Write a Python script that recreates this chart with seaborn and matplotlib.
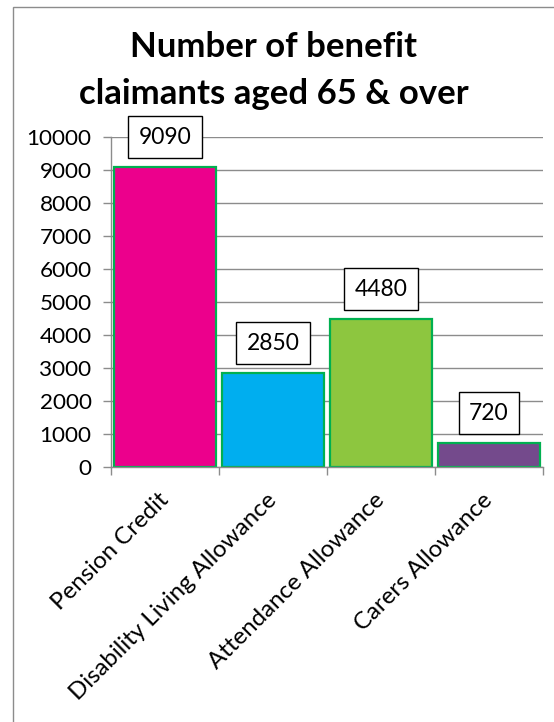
import matplotlib
matplotlib.use("Agg")
import matplotlib.pyplot as plt
import matplotlib.transforms as mtransforms
from matplotlib.patches import Rectangle
from matplotlib.ticker import FixedLocator
import seaborn as sns
import pandas as pd

categories = ["Pension Credit", "Disability Living Allowance",
              "Attendance Allowance", "Carers Allowance"]
claimants = [9090, 2850, 4480, 720]
bar_colors = ["#EC008C", "#00AEEF", "#8DC63F", "#744A8C"]
y_ticks = list(range(0, 10001, 1000))

df = pd.DataFrame({"benefit": categories, "claimants": claimants})

sns.set_theme(style="white")
plt.rcParams["font.family"] = ["Lato", "DejaVu Sans"]

W, H = 554, 722
fig = plt.figure(figsize=(W / 100, H / 100), dpi=100)
fig.patch.set_facecolor("white")

# chart frame
fig.patches.append(Rectangle((13 / W, -0.1), 1.2, 1 - 7 / H + 0.1,
                             transform=fig.transFigure, fill=False,
                             edgecolor="#8c8c8c", linewidth=1.0))

ax = fig.add_axes([111 / W, 1 - 467 / H, (543 - 111) / W, (467 - 137) / H])
sns.barplot(data=df, x="benefit", y="claimants", hue="benefit",
            palette=bar_colors, order=categories, hue_order=categories,
            legend=False, width=0.95, edgecolor="#00B050", linewidth=1.6,
            saturation=1, ax=ax)

ax.set_ylim(0, 10000)
ax.set_xlim(-0.5, len(categories) - 0.5)
ax.set_yticks(y_ticks)
ax.set_yticklabels([str(t) for t in y_ticks], fontsize=16.2, color="black")
ax.yaxis.grid(True, color="#8c8c8c", linewidth=1.0)
ax.set_axisbelow(True)
ax.set_xlabel("")
ax.set_ylabel("")

for side in ["top", "right"]:
    ax.spines[side].set_visible(False)
for side in ["left", "bottom"]:
    ax.spines[side].set_color("#8c8c8c")
    ax.spines[side].set_linewidth(1.0)

ax.tick_params(axis="y", which="major", direction="out", length=6,
               color="#8c8c8c", width=1.0, left=True, pad=8)
ax.tick_params(axis="x", which="major", length=0, pad=6)
ax.xaxis.set_minor_locator(FixedLocator([i - 0.5 for i in range(len(categories) + 1)]))
ax.tick_params(axis="x", which="minor", direction="out", length=6,
               color="#8c8c8c", width=1.0, bottom=True)
ax.set_xticks(range(len(categories)))
ax.set_xticklabels(categories, rotation=45, ha="right",
                   rotation_mode="anchor", fontsize=17.3, color="black")

# nudge the slanted category labels down and slightly left
shift = mtransforms.ScaledTranslation(-7 / 100, -14 / 100, fig.dpi_scale_trans)
for lbl in ax.get_xticklabels():
    lbl.set_transform(lbl.get_transform() + shift)

for i, v in enumerate(claimants):
    ax.annotate(str(v), xy=(i, v), xytext=(0, 14), textcoords="offset points",
                ha="center", va="bottom", fontsize=16.5, color="black",
                bbox=dict(boxstyle="square,pad=0.45", facecolor="white",
                          edgecolor="black", linewidth=1.0))

fig.text(274 / W, 1 - 57 / H, "Number of benefit", ha="center", va="baseline",
         fontsize=25, fontweight="bold", color="black")
fig.text(274 / W, 1 - 104 / H, "claimants aged 65 & over", ha="center",
         va="baseline", fontsize=25, fontweight="bold", color="black")

fig.savefig("out.png", dpi=100, facecolor="white")
